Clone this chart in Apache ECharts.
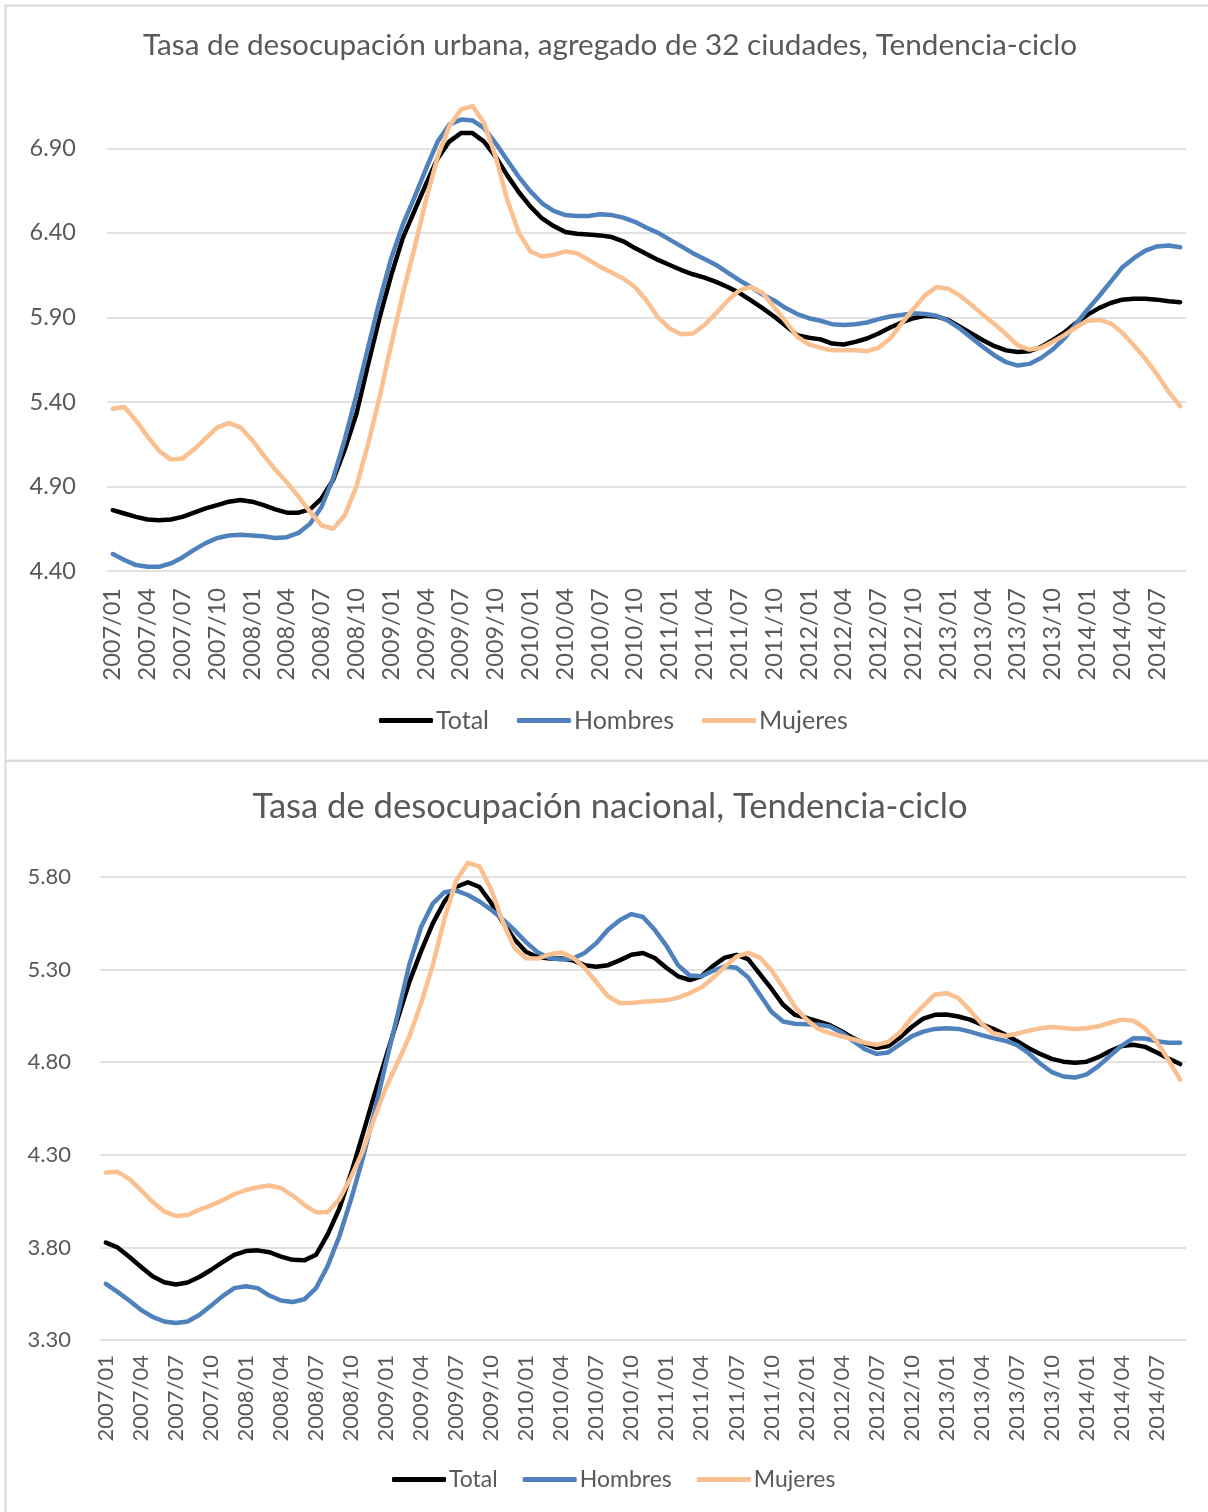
<!DOCTYPE html>
<html><head><meta charset="utf-8">
<script src="https://cdn.jsdelivr.net/npm/echarts@6/dist/echarts.min.js"></script>
<style>html,body{margin:0;padding:0;background:#fff}#c{width:1208px;height:1512px}</style>
</head><body><div id="c"></div>
<script>
const months = [
"2007/01","2007/02","2007/03","2007/04","2007/05","2007/06","2007/07","2007/08","2007/09","2007/10","2007/11","2007/12",
"2008/01","2008/02","2008/03","2008/04","2008/05","2008/06","2008/07","2008/08","2008/09","2008/10","2008/11","2008/12",
"2009/01","2009/02","2009/03","2009/04","2009/05","2009/06","2009/07","2009/08","2009/09","2009/10","2009/11","2009/12",
"2010/01","2010/02","2010/03","2010/04","2010/05","2010/06","2010/07","2010/08","2010/09","2010/10","2010/11","2010/12",
"2011/01","2011/02","2011/03","2011/04","2011/05","2011/06","2011/07","2011/08","2011/09","2011/10","2011/11","2011/12",
"2012/01","2012/02","2012/03","2012/04","2012/05","2012/06","2012/07","2012/08","2012/09","2012/10","2012/11","2012/12",
"2013/01","2013/02","2013/03","2013/04","2013/05","2013/06","2013/07","2013/08","2013/09","2013/10","2013/11","2013/12",
"2014/01","2014/02","2014/03","2014/04","2014/05","2014/06","2014/07","2014/08","2014/09"];

const seriesNames = ["Total","Hombres","Mujeres"];

// Tasa de desocupación urbana, 32 ciudades
const urbTotal = [4.76,4.74,4.72,4.705,4.70,4.705,4.72,4.745,4.77,4.79,4.81,4.82,4.81,4.79,4.765,4.745,4.745,4.765,4.83,4.94,
5.12,5.33,5.62,5.90,6.15,6.37,6.53,6.69,6.84,6.94,6.99,6.99,6.94,6.85,6.74,6.64,6.555,6.485,6.44,6.405,
6.395,6.39,6.385,6.375,6.35,6.31,6.275,6.24,6.21,6.18,6.155,6.135,6.11,6.08,6.045,6.00,5.955,5.905,5.85,5.795,
5.78,5.77,5.745,5.74,5.755,5.775,5.805,5.84,5.87,5.895,5.91,5.905,5.885,5.845,5.805,5.765,5.73,5.705,5.695,5.70,
5.725,5.765,5.81,5.865,5.915,5.955,5.985,6.005,6.01,6.01,6.005,5.995,5.99];
const urbHombres = [4.50,4.465,4.435,4.425,4.425,4.445,4.48,4.525,4.565,4.595,4.61,4.615,4.61,4.605,4.595,4.60,4.625,4.68,4.78,4.95,
5.18,5.44,5.72,6.00,6.25,6.45,6.61,6.78,6.94,7.04,7.07,7.065,7.02,6.93,6.83,6.73,6.645,6.575,6.53,6.505,
6.50,6.50,6.51,6.505,6.49,6.465,6.43,6.40,6.36,6.32,6.28,6.245,6.21,6.165,6.12,6.08,6.035,6.00,5.955,5.92,
5.895,5.88,5.86,5.855,5.86,5.87,5.89,5.905,5.915,5.925,5.92,5.91,5.88,5.835,5.78,5.725,5.675,5.635,5.615,5.625,
5.66,5.71,5.775,5.86,5.945,6.025,6.11,6.195,6.25,6.295,6.32,6.325,6.315];
const urbMujeres = [5.36,5.37,5.29,5.195,5.11,5.06,5.065,5.12,5.185,5.25,5.275,5.25,5.175,5.085,5.00,4.925,4.84,4.75,4.67,4.65,
4.73,4.90,5.15,5.43,5.74,6.04,6.31,6.595,6.85,7.03,7.13,7.15,7.05,6.85,6.595,6.40,6.29,6.26,6.27,6.29,
6.28,6.24,6.20,6.165,6.13,6.08,6.00,5.90,5.835,5.80,5.805,5.855,5.925,6.00,6.06,6.08,6.045,5.96,5.875,5.785,
5.74,5.72,5.705,5.705,5.705,5.70,5.72,5.775,5.865,5.95,6.03,6.08,6.07,6.03,5.975,5.915,5.86,5.80,5.735,5.71,
5.72,5.755,5.795,5.84,5.88,5.885,5.865,5.81,5.735,5.655,5.565,5.46,5.375];

// Tasa de desocupación nacional
const nacTotal = [3.826,3.80,3.75,3.696,3.644,3.612,3.60,3.61,3.64,3.678,3.72,3.76,3.78,3.784,3.774,3.75,3.733,3.73,3.76,3.87,
4.01,4.20,4.41,4.625,4.83,5.035,5.235,5.40,5.55,5.668,5.746,5.772,5.746,5.66,5.556,5.463,5.395,5.368,5.36,5.36,
5.35,5.324,5.315,5.324,5.35,5.38,5.39,5.363,5.31,5.264,5.244,5.264,5.32,5.365,5.38,5.357,5.277,5.197,5.11,5.056,
5.04,5.02,5.00,4.967,4.93,4.90,4.877,4.887,4.933,4.99,5.035,5.056,5.058,5.047,5.03,5.004,4.98,4.95,4.915,4.877,
4.845,4.818,4.803,4.797,4.803,4.827,4.86,4.887,4.894,4.883,4.853,4.82,4.79];
const nacHombres = [3.603,3.56,3.513,3.463,3.425,3.40,3.392,3.40,3.435,3.485,3.537,3.58,3.59,3.58,3.54,3.513,3.505,3.52,3.58,3.70,
3.86,4.06,4.28,4.53,4.80,5.06,5.33,5.53,5.657,5.718,5.727,5.703,5.668,5.623,5.571,5.513,5.447,5.393,5.363,5.355,
5.36,5.39,5.443,5.515,5.567,5.60,5.584,5.515,5.43,5.324,5.268,5.264,5.294,5.318,5.31,5.259,5.166,5.073,5.02,5.008,
5.005,5.003,4.993,4.96,4.915,4.87,4.845,4.853,4.896,4.94,4.965,4.98,4.983,4.98,4.965,4.946,4.93,4.916,4.894,4.85,
4.793,4.747,4.723,4.717,4.734,4.779,4.835,4.89,4.93,4.928,4.913,4.905,4.905];
const nacMujeres = [4.204,4.208,4.17,4.11,4.046,3.994,3.97,3.975,4.003,4.027,4.055,4.087,4.11,4.125,4.134,4.12,4.08,4.03,3.99,3.99,
4.06,4.18,4.32,4.50,4.665,4.80,4.94,5.12,5.324,5.575,5.78,5.876,5.858,5.733,5.556,5.417,5.361,5.36,5.383,5.393,
5.365,5.31,5.233,5.156,5.12,5.12,5.127,5.13,5.134,5.149,5.173,5.203,5.255,5.315,5.37,5.39,5.365,5.296,5.203,5.10,
5.03,4.98,4.957,4.94,4.924,4.905,4.894,4.91,4.96,5.04,5.104,5.166,5.173,5.147,5.08,5.008,4.957,4.942,4.954,4.97,
4.983,4.99,4.985,4.98,4.983,4.994,5.013,5.03,5.024,4.983,4.91,4.812,4.706];

const titleUrb = "Tasa de desocupación urbana, agregado de 32 ciudades, Tendencia-ciclo";
const titleNac = "Tasa de desocupación nacional, Tendencia-ciclo";

const FONT = "Lato, Carlito, Calibri, sans-serif";
const GRAY = "#595959";
const GRID = "#d9d9d9";
const COLORS = { Total: "#000000", Hombres: "#4F81BD", Mujeres: "#FAC090" };

function mkSeries(name, data, idx) {
  return {
    type: "line", name: name, data: data,
    xAxisIndex: idx, yAxisIndex: idx,
    symbol: "none", showSymbol: false, smooth: false,
    lineStyle: { width: 4.5, color: COLORS[name], cap: "round", join: "round" },
    itemStyle: { color: COLORS[name] },
    emphasis: { disabled: true },
    animation: false
  };
}
function mkX(idx, fs, margin) {
  return {
    type: "category", gridIndex: idx, data: months, boundaryGap: true,
    axisLine: { show: false }, axisTick: { show: false },
    axisLabel: { interval: 2, rotate: 90, margin: margin, color: GRAY, fontFamily: FONT, fontSize: fs },
    splitLine: { show: false }
  };
}
function mkY(idx, min, max, margin, fs) {
  return {
    type: "value", gridIndex: idx, min: min, max: max, interval: 0.5,
    axisLine: { show: false }, axisTick: { show: false },
    axisLabel: { showMaxLabel: false, margin: margin, color: GRAY, fontFamily: FONT, fontSize: fs,
      formatter: function (v) { return v.toFixed(2); } },
    splitLine: { show: true, showMaxLine: false, lineStyle: { color: GRID, width: 1.5 } }
  };
}
function mkLegend(top, left, fs, gap) {
  return {
    data: seriesNames, top: top, left: left, orient: "horizontal",
    icon: "roundRect", itemWidth: 54, itemHeight: 5, itemGap: gap,
    textStyle: { color: GRAY, fontFamily: FONT, fontSize: fs, padding: [0, 0, 0, -2] },
    selectedMode: false
  };
}

const chart = echarts.init(document.getElementById("c"), null, { renderer: "canvas" });
chart.setOption({
  backgroundColor: "#ffffff",
  animation: false,
  title: [
    { text: titleUrb, left: 610, textAlign: "center", top: 30, padding: 0,
      textStyle: { color: GRAY, fontFamily: FONT, fontSize: 29.7, fontWeight: "normal" } },
    { text: titleNac, left: 610, textAlign: "center", top: 789, padding: 0,
      textStyle: { color: GRAY, fontFamily: FONT, fontSize: 34.6, fontWeight: "normal" } }
  ],
  legend: [ mkLegend(703, 374, 25, 28), mkLegend(1463, 387, 23, 25) ],
  grid: [
    { left: 107, right: 22, top: 97.6, height: 473.4, containLabel: false },
    { left: 100, right: 22, top: 840, height: 500, containLabel: false }
  ],
  xAxis: [ mkX(0, 23.5, 17), mkX(1, 22, 15) ],
  yAxis: [ mkY(0, 4.4, 7.2, 31, 23.5), mkY(1, 3.3, 6.0, 29, 22) ],
  series: [
    mkSeries("Total", urbTotal, 0), mkSeries("Hombres", urbHombres, 0), mkSeries("Mujeres", urbMujeres, 0),
    mkSeries("Total", nacTotal, 1), mkSeries("Hombres", nacHombres, 1), mkSeries("Mujeres", nacMujeres, 1)
  ],
  graphic: [
    { type: "rect", silent: true, z: -1, shape: { x: 5.5, y: 5.5, width: 1300, height: 755 },
      style: { fill: null, stroke: GRID, lineWidth: 2 } },
    { type: "rect", silent: true, z: -1, shape: { x: 5.5, y: 761, width: 1300, height: 800 },
      style: { fill: null, stroke: GRID, lineWidth: 2 } }
  ]
});
</script>
</body></html>
